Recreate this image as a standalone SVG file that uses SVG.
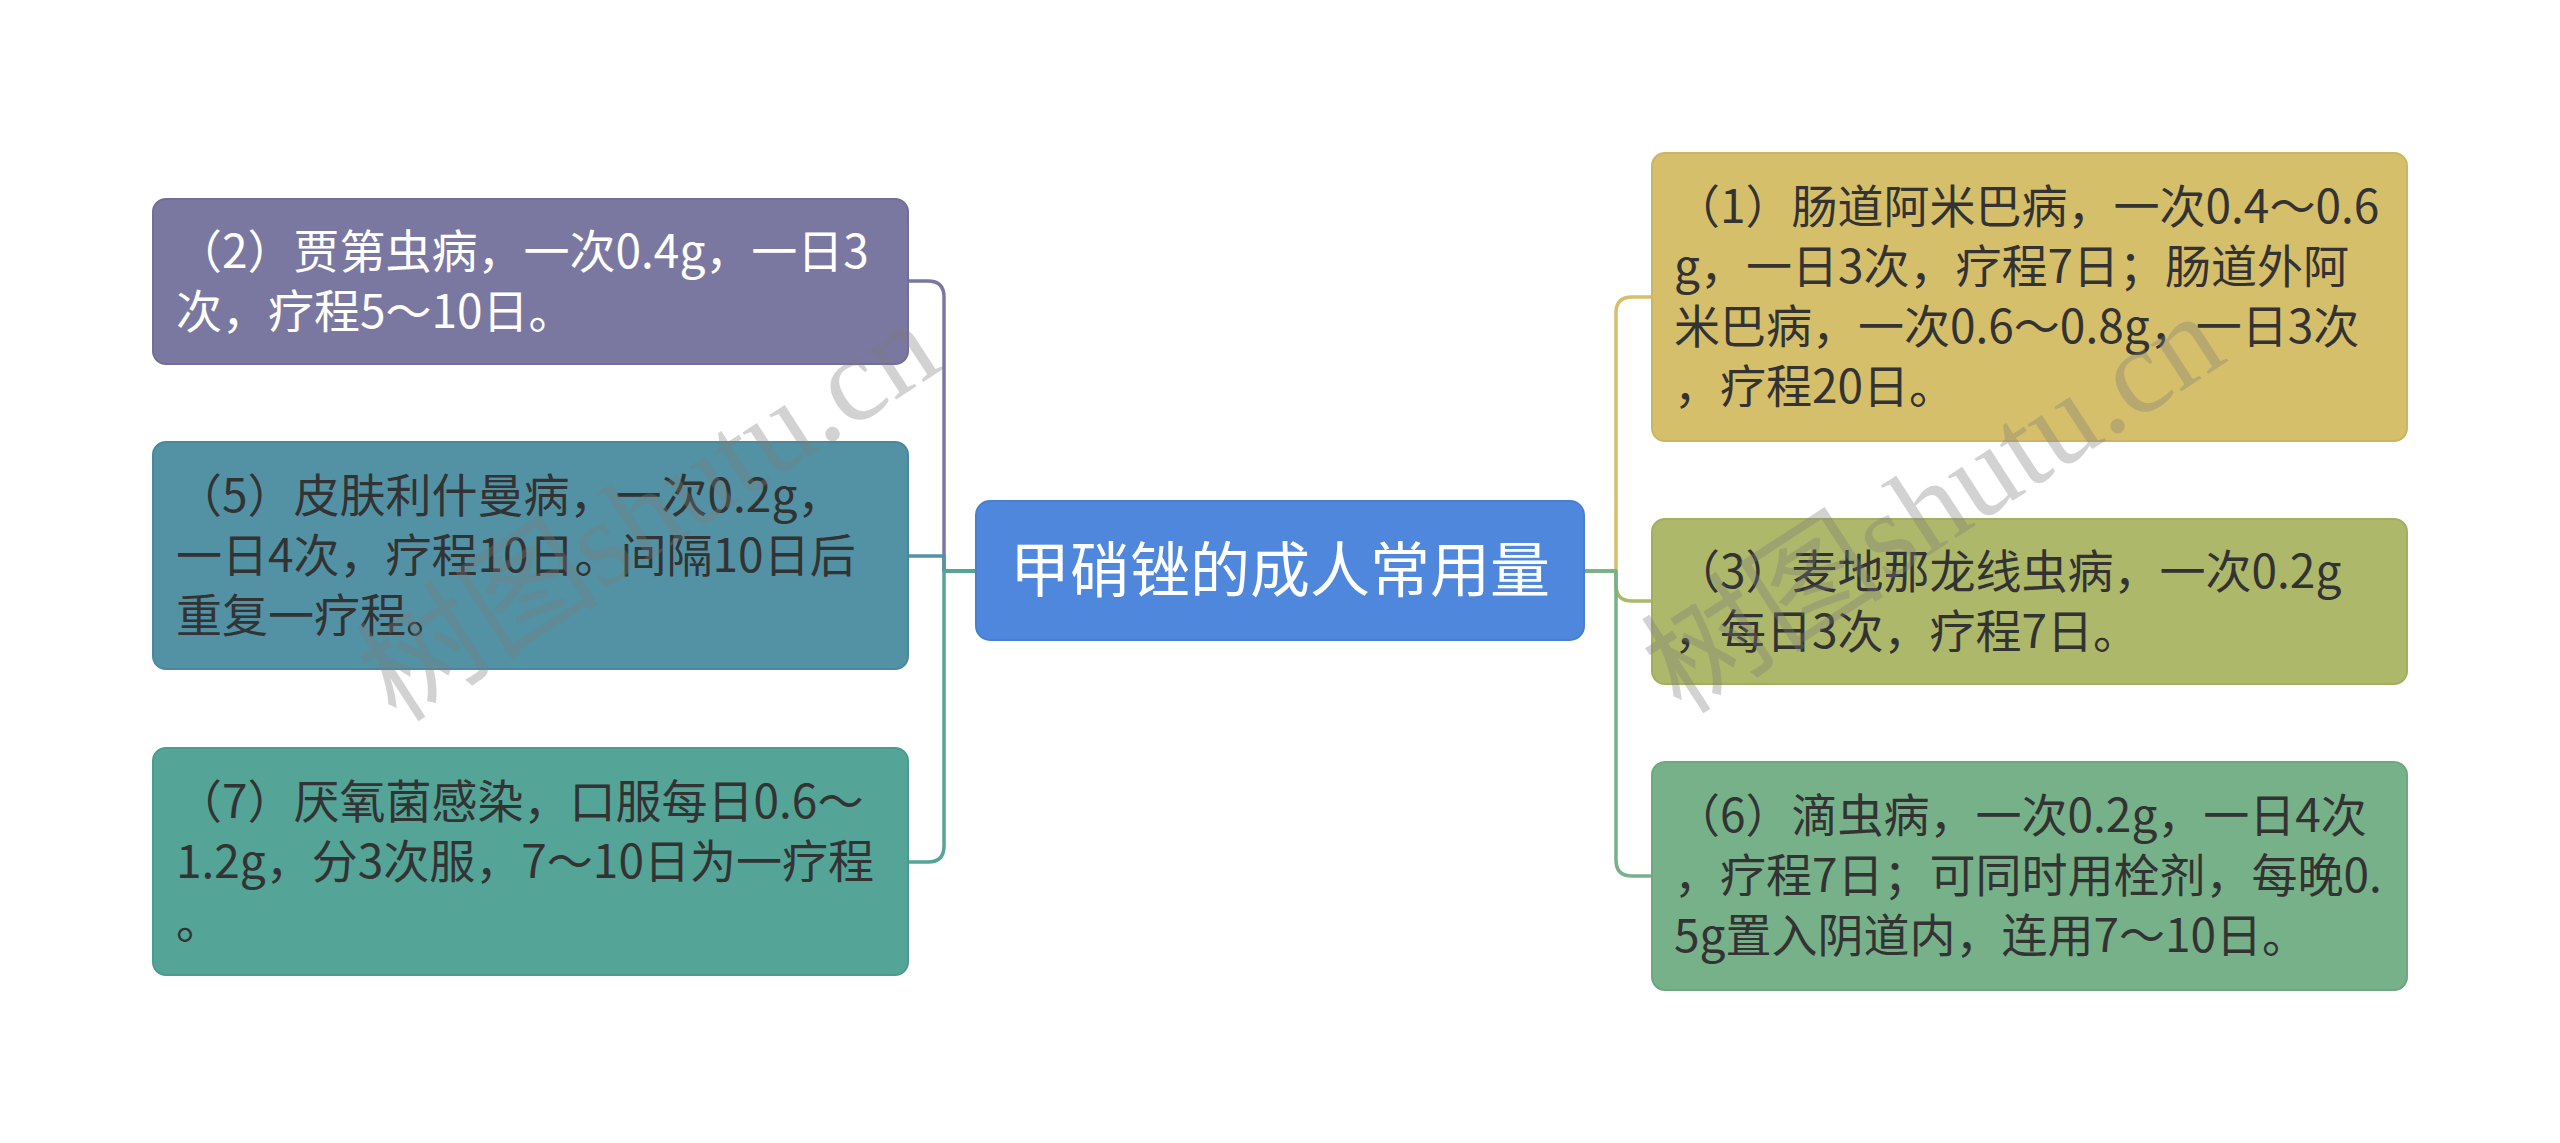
<svg xmlns="http://www.w3.org/2000/svg" width="2560" height="1143" viewBox="0 0 2560 1143">
<style>
.box{stroke-width:2}
.t{font-family:"Noto Sans CJK SC","Noto Sans",sans-serif;font-size:46px;fill:#333333}
.tw{fill:#ffffff}
.c{font-family:"Noto Sans CJK SC","Noto Sans",sans-serif;font-size:60px;fill:#ffffff}
.ln{fill:none;stroke-width:3.5;stroke-linejoin:round}
.wm{font-family:"Liberation Serif","Noto Sans CJK SC",serif;font-size:122px;fill:#7a7a7a;opacity:0.33}
</style>
<rect width="2560" height="1143" fill="#ffffff"/>
<g id="connectors">
<path class="ln" stroke="#7a78a0" d="M976 571 H944 V297 Q944 281 928 281 H908"/>
<path class="ln" stroke="#5292a4" d="M976 571 H944 V556 H908"/>
<path class="ln" stroke="#54a498" d="M976 571 H944 V846 Q944 862 928 862 H908"/>
<path class="ln" stroke="#d6bf6b" d="M1584 571 H1616 V313 Q1616 297 1632 297 H1652"/>
<path class="ln" stroke="#aeb86b" d="M1584 571 H1616 V585 Q1616 601 1632 601 H1652"/>
<path class="ln" stroke="#77b18a" d="M1584 571 H1616 V860 Q1616 876 1632 876 H1652"/>
</g>
<g id="center">
<rect class="box" x="976" y="501" width="608" height="139" rx="14" fill="#4f87dc" stroke="#4a7fcf"/>
<text class="c" x="1280" y="592" text-anchor="middle">甲硝锉的成人常用量</text>
</g>
<g id="n2">
<rect class="box" x="153" y="199" width="755" height="165" rx="13" fill="#7a78a0" stroke="#726f97"/>
<text class="t tw" x="176" y="268">（2）贾第虫病，一次0.4g，一日3</text>
<text class="t tw" x="176" y="328">次，疗程5～10日。</text>
</g>
<g id="n5">
<rect class="box" x="153" y="442" width="755" height="227" rx="13" fill="#5292a4" stroke="#4b899a"/>
<text class="t" x="176" y="512">（5）皮肤利什曼病，一次0.2g，</text>
<text class="t" x="176" y="572">一日4次，疗程10日。间隔10日后</text>
<text class="t" x="176" y="632">重复一疗程。</text>
</g>
<g id="n7">
<rect class="box" x="153" y="748" width="755" height="227" rx="13" fill="#54a498" stroke="#4d9a8e"/>
<text class="t" x="176" y="818">（7）厌氧菌感染，口服每日0.6～</text>
<text class="t" x="176" y="878">1.2g，分3次服，7～10日为一疗程</text>
<text class="t" x="176" y="938">。</text>
</g>
<g id="n1">
<rect class="box" x="1652" y="153" width="755" height="288" rx="13" fill="#d6bf6b" stroke="#cbb463"/>
<text class="t" x="1674" y="223">（1）肠道阿米巴病，一次0.4～0.6</text>
<text class="t" x="1674" y="283">g，一日3次，疗程7日；肠道外阿</text>
<text class="t" x="1674" y="343">米巴病，一次0.6～0.8g，一日3次</text>
<text class="t" x="1674" y="403">，疗程20日。</text>
</g>
<g id="n3">
<rect class="box" x="1652" y="519" width="755" height="165" rx="13" fill="#aeb86b" stroke="#a4ae63"/>
<text class="t" x="1674" y="588">（3）麦地那龙线虫病，一次0.2g</text>
<text class="t" x="1674" y="648">，每日3次，疗程7日。</text>
</g>
<g id="n6">
<rect class="box" x="1652" y="762" width="755" height="228" rx="13" fill="#77b18a" stroke="#6ea782"/>
<text class="t" x="1674" y="832">（6）滴虫病，一次0.2g，一日4次</text>
<text class="t" x="1674" y="892">，疗程7日；可同时用栓剂，每晚0.</text>
<text class="t" x="1674" y="952">5g置入阴道内，连用7～10日。</text>
</g>
<g id="watermarks">
<text class="wm" x="650" y="552" text-anchor="middle" transform="rotate(-33 650 514)">树图shutu.cn</text>
<text class="wm" x="1935" y="544" text-anchor="middle" transform="rotate(-33 1935 506)">树图shutu.cn</text>
</g>
</svg>
